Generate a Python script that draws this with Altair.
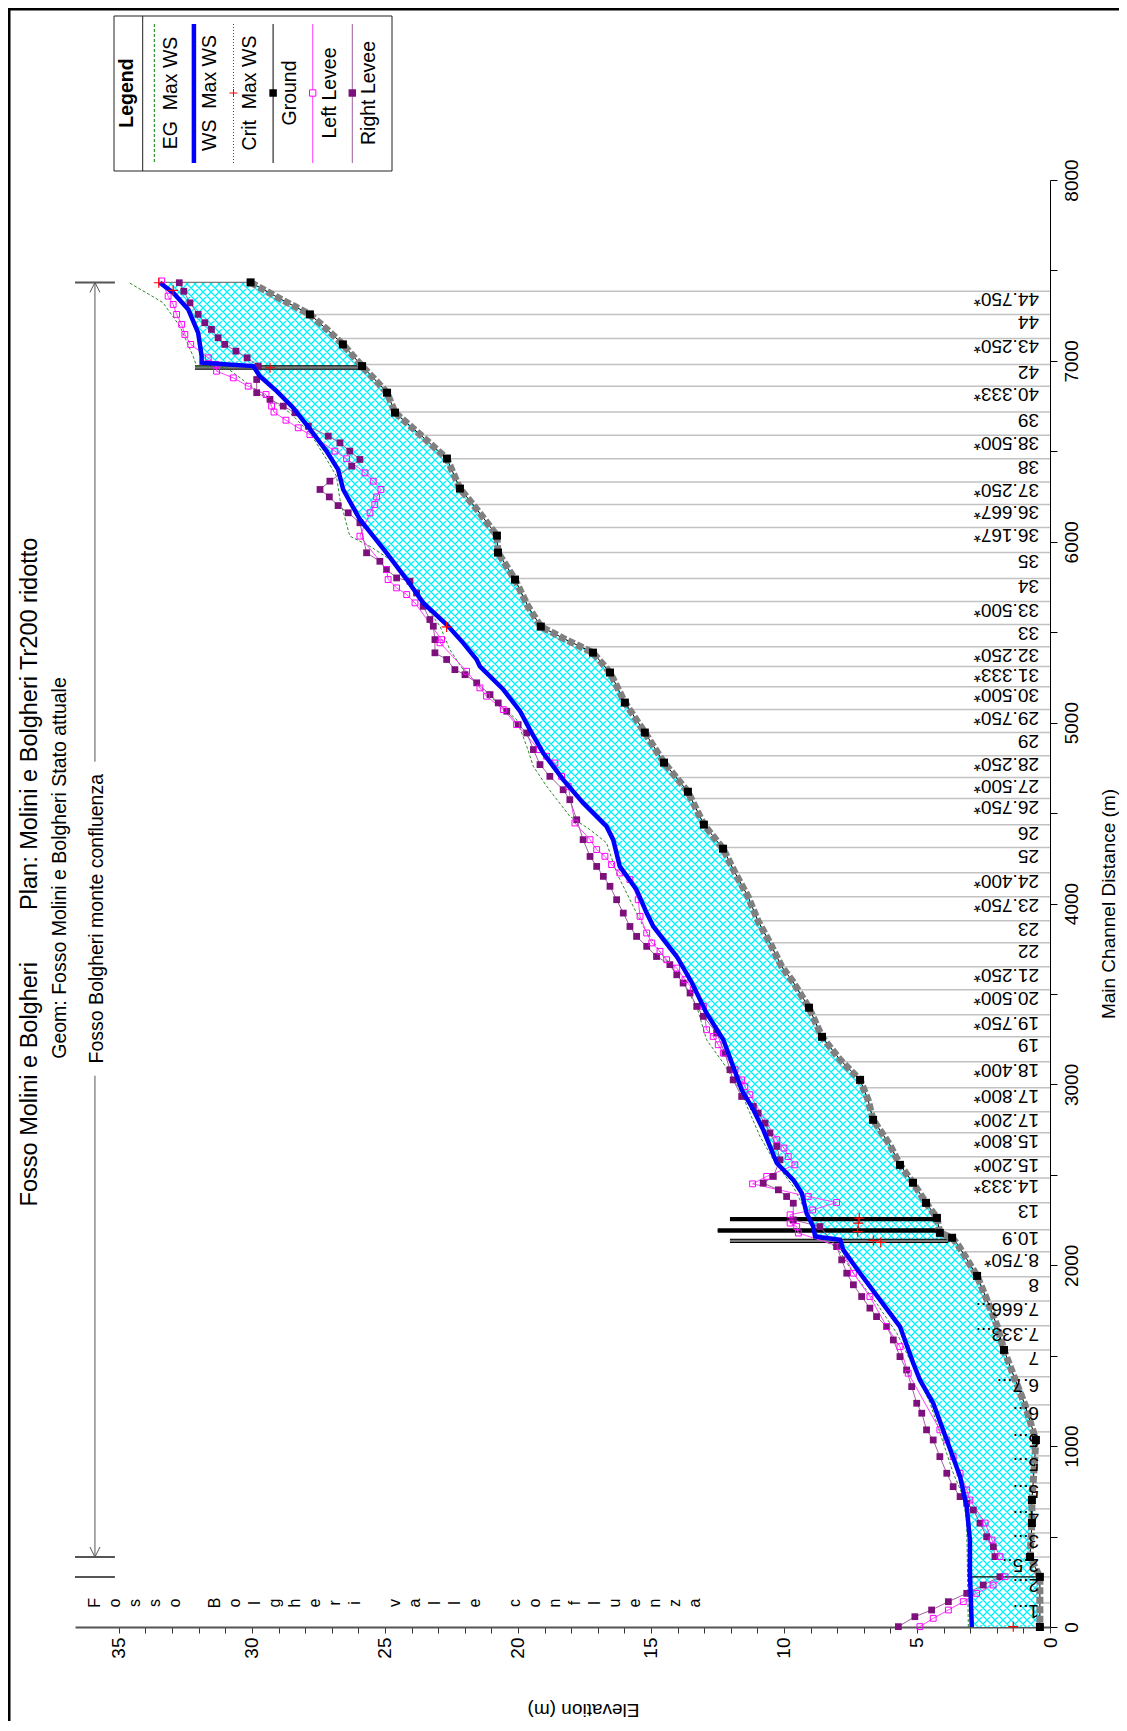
import altair as alt
import pandas as pd

# ---------------- data ----------------
# Water surface (WS Max WS): distance (m), elevation (m)
WS_D = [7432, 7377, 7284, 7155, 7026, 6990, 6971, 6915, 6833, 6741, 6611, 6500, 6399, 6289, 6123, 6031, 5939, 5791,
        5662, 5542, 5441, 5348, 5311, 5183, 5063, 4961, 4832, 4685, 4556, 4426, 4353, 4205, 4076, 3947, 3873, 3707,
        3562, 3394, 3247, 3099, 2970, 2860, 2749, 2565, 2472, 2399, 2288, 2214, 2159, 2141, 2085, 1956, 1809, 1661,
        1458, 1366, 1237, 1034, 831, 665, 481, 297, 0]
WS_E = [33.46, 32.96, 32.39, 32.02, 31.89, 31.89, 29.95, 29.70, 29.07, 28.45, 27.76, 27.19, 26.76, 26.57, 25.94, 25.44,
        24.94, 24.18, 23.56, 22.68, 22.06, 21.55, 21.43, 20.55, 19.92, 19.55, 19.05, 18.30, 17.55, 16.67, 16.42, 16.17,
        15.54, 15.16, 14.91, 14.03, 13.46, 12.91, 12.28, 11.91, 11.59, 11.15, 10.78, 10.27, 9.65, 9.33, 9.15, 8.90,
        8.83, 7.89, 7.77, 7.14, 6.39, 5.64, 5.14, 4.89, 4.39, 3.88, 3.38, 3.13, 3.01, 3.01, 2.94]

# Energy grade (EG Max WS)
EG_D = [7430, 7323, 7192, 7026, 6971, 6962, 6879, 6787, 6713, 6602, 6455, 6362, 6233, 6031, 5975, 5902, 5736, 5533,
        5404, 5293, 5146, 5017, 4869, 4758, 4648, 4482, 4408, 4335, 4169, 4021, 3873, 3707, 3560, 3431, 3247, 3118,
        2970, 2841, 2712, 2583, 2435, 2288, 2141, 2103, 1956, 1790, 1624, 1440, 1239, 852, 721, 575, 0]
EG_E = [34.59, 33.35, 32.71, 32.21, 32.08, 30.95, 30.20, 29.32, 28.57, 27.82, 27.19, 26.82, 26.69, 26.32, 25.56, 24.81,
        23.94, 22.93, 22.56, 22.06, 21.05, 20.05, 19.67, 19.42, 18.92, 18.05, 17.29, 16.67, 16.29, 15.79, 15.29, 14.54,
        13.79, 13.28, 12.91, 12.28, 11.65, 11.28, 10.90, 10.40, 9.65, 9.15, 8.65, 8.02, 7.39, 6.52, 5.76, 5.14, 4.51,
        3.64, 3.26, 3.13, 3.07]

# Ground (channel bed); GR_REAL = 1 for surveyed sections (black markers)
GR_D = [7434, 7390, 7344, 7257, 7174, 7091, 6971, 6897, 6824, 6714, 6593, 6460, 6294, 6178, 6034, 5940, 5791, 5642,
        5531, 5459, 5387, 5277, 5111, 4945, 4779, 4618, 4436, 4303, 4170, 4038, 3905, 3783, 3650, 3567, 3424, 3263,
        3136, 3025, 2915, 2804, 2666, 2555, 2456, 2345, 2262, 2179, 2152, 2113, 1941, 1809, 1665, 1532, 1383, 1228,
        1034, 868, 702, 575, 387, 277, 0]
GR_E = [30.05, 29.51, 28.95, 27.82, 27.18, 26.58, 25.86, 25.38, 24.92, 24.62, 23.68, 22.67, 22.18, 21.54, 20.79, 20.75,
        20.11, 19.62, 19.14, 18.20, 17.18, 16.54, 15.98, 15.23, 14.51, 13.61, 13.01, 12.29, 11.84, 11.35, 10.98, 10.53,
        10.08, 9.66, 9.06, 8.57, 7.89, 7.14, 6.84, 6.65, 6.02, 5.64, 5.15, 4.66, 4.25, 4.14, 3.68, 3.46, 2.74, 2.37,
        1.99, 1.73, 1.35, 0.94, 0.53, 0.60, 0.68, 0.68, 0.75, 0.38, 0.38]
GR_REAL = [1, 0, 0, 1, 0, 1, 1, 0, 1, 1, 0, 1, 1, 0, 1, 1, 1, 0, 1, 0, 1, 1, 1, 1, 1, 1, 1, 1, 0, 0, 0, 0, 0, 0, 1, 1,
           0, 1, 0, 1, 0, 1, 1, 1, 1, 1, 1, 0, 1, 0, 0, 1, 0, 0, 1, 0, 1, 1, 1, 1, 1]

# Right levee (upper reach "monte confluenza", lower reach "valle confluenza")
RL_D = [7432, 7385, 7321, 7257, 7211, 7174, 7128, 7091, 7054, 7017, 6971, 6897, 6824, 6787, 6750, 6713, 6639, 6584,
        6547, 6501, 6455, 6418, 6335, 6289, 6248, 6200, 6160, 6105, 5939, 5892, 5846, 5800, 5782, 5717, 5643, 5570,
        5533, 5459, 5386, 5349, 5293, 5265, 5220, 5155, 5109, 5063, 4989, 4943, 4851, 4768, 4703, 4629, 4574, 4463,
        4353, 4260, 4205, 4150, 4095, 4021, 3947, 3873, 3818, 3763, 3707, 3662, 3606, 3560, 3505, 3431, 3376, 3284,
        3173, 3081, 3025, 2933, 2878, 2841, 2786, 2731, 2657, 2583, 2491, 2454, 2417, 2380, 2343, 2251, 2214, 2103,
        2030, 1956, 1892, 1827, 1763, 1716, 1661, 1587, 1495, 1421, 1329, 1237, 1182, 1090, 1034, 942, 850, 776, 721,
        684, 647, 574, 499, 444, 389]
RL_E = [32.73, 32.56, 32.33, 32.02, 31.77, 31.52, 31.27, 31.02, 30.60, 30.18, 29.76, 29.82, 29.82, 29.32, 28.82, 28.38,
        27.88, 27.13, 26.69, 26.32, 25.94, 26.25, 27.07, 27.44, 27.09, 26.76, 26.38, 25.94, 25.69, 25.19, 24.94, 24.56,
        24.06, 23.81, 23.56, 23.31, 23.18, 23.12, 23.12, 22.68, 22.37, 21.99, 21.55, 21.05, 20.74, 20.42, 19.99, 19.67,
        19.42, 19.17, 18.80, 18.30, 18.05, 17.79, 17.55, 17.29, 17.04, 16.79, 16.54, 16.29, 16.04, 15.79, 15.54, 15.16,
        14.79, 14.29, 14.03, 13.79, 13.53, 13.28, 13.03, 12.53, 12.22, 12.03, 11.91, 11.59, 11.15, 10.97, 10.71, 10.53,
        10.27, 10.15, 10.40, 10.78, 10.21, 9.90, 9.65, 9.65, 8.65, 8.02, 7.83, 7.64, 7.39, 7.08, 6.77, 6.52, 6.14, 5.89,
        5.64, 5.39, 5.20, 5.01, 4.82, 4.64, 4.39, 4.14, 3.88, 3.64, 3.38, 3.13, 2.88, 2.63, 2.38, 2.13, 2.07]
RL_LOW_D = [278, 232, 186, 140, 94, 57, 2]
RL_LOW_E = [1.88, 2.51, 3.13, 3.82, 4.45, 5.08, 5.70]

# Left levee
LL_D = [7442, 7358, 7312, 7257, 7202, 7146, 7091, 7017, 6980, 6943, 6906, 6860, 6814, 6750, 6717, 6672, 6630, 6593,
        6501, 6459, 6381, 6335, 6289, 6248, 6206, 6160, 6031, 5846, 5791, 5745, 5708, 5662, 5459, 5441, 5284, 5192,
        5146, 5072, 4989, 4851, 4814, 4777, 4703, 4648, 4445, 4353, 4298, 4261, 4215, 4169, 4132, 4021, 3929, 3837,
        3782, 3735, 3689, 3643, 3579, 3523, 3431, 3302, 3265, 3219, 3173, 3081, 3025, 2988, 2943, 2694, 2648, 2601,
        2555, 2491, 2450, 2380, 2347, 2306, 2279, 2233, 2214, 2178, 2103, 1956, 1827, 1661, 1550, 1403, 1090, 1034,
        942, 850, 758, 702, 575, 481, 389]
LL_E = [33.39, 33.15, 32.96, 32.83, 32.64, 32.52, 32.30, 31.64, 31.35, 31.33, 30.70, 30.14, 29.47, 29.26, 29.17, 28.72,
        28.26, 27.82, 26.88, 26.44, 25.75, 25.44, 25.15, 25.31, 25.38, 25.56, 25.94, 24.94, 24.88, 24.56, 24.18, 23.87,
        22.87, 22.93, 21.93, 21.43, 21.18, 20.55, 20.05, 19.20, 18.92, 18.61, 18.36, 18.11, 17.86, 17.29, 17.04, 16.73,
        16.48, 16.17, 15.79, 15.48, 15.41, 15.16, 14.97, 14.66, 14.41, 14.03, 13.72, 13.41, 13.03, 12.91, 12.66, 12.47,
        12.28, 11.84, 11.59, 11.47, 11.28, 10.27, 10.00, 9.84, 9.59, 10.65, 11.18, 9.09, 8.02, 8.92, 9.77, 9.77, 9.52,
        9.46, 7.89, 7.39, 6.77, 6.14, 5.64, 5.33, 4.14, 3.88, 3.64, 3.38, 3.13, 3.01, 2.44, 2.18, 1.88]
LL_LOW_D = [278, 232, 186, 140, 94, 48, 2]
LL_LOW_E = [1.69, 2.14, 2.76, 3.26, 3.82, 4.39, 4.89]

# Critical water surface markers
CRIT_D = [7432, 7390, 6962, 5529, 2261, 2233, 2186, 2137, 2126, 2]
CRIT_E = [33.50, 32.96, 29.32, 22.68, 7.17, 7.21, 7.23, 6.64, 6.36, 1.38]

# Cross-section stations (labels), their distance and ground elevation
XS_LABEL = ["44.750*", "44", "43.250*", "42", "40.333*", "39", "38.500*", "38", "37.250*", "36.667*",
            "36.167*", "35", "34", "33.500*", "33", "32.250*", "31.333*", "30.500*", "29.750*", "29",
            "28.250*", "27.500*", "26.750*", "26", "25", "24.400*", "23.750*", "23", "22", "21.250*",
            "20.500*", "19.750*", "19", "18.400*", "17.800*", "17.200*", "15.800*", "15.200*", "14.333*", "13",
            "10.9", "8.750*", "8", "7.666...", "7.333...", "7", "6.7...", "6...", "5...", "5...",
            "5...", "4...", "3...", "2.5..", "2...", "1..."]
XS_D = [7385, 7257, 7124, 6980, 6860, 6718, 6589, 6459, 6331, 6206, 6079, 5940, 5797, 5669, 5542, 5420, 5310, 5199,
        5072, 4945, 4817, 4696, 4580, 4436, 4309, 4170, 4038, 3905, 3783, 3650, 3523, 3385, 3263, 3125, 2981, 2848,
        2732, 2600, 2483, 2345, 2196, 2074, 1936, 1803, 1665, 1532, 1383, 1228, 1079, 946, 796, 653, 520, 387, 277, 133]
XS_GROUND = [29.5, 27.8, 26.9, 25.9, 25.15, 24.6, 23.65, 22.65, 22.3, 21.7, 21.0, 20.75, 20.1, 19.7, 19.2, 17.7, 16.7,
             16.3, 15.8, 15.2, 14.65, 14.1, 13.45, 13.0, 12.3, 11.85, 11.35, 10.95, 10.5, 10.1, 9.45, 8.95, 8.55, 7.85,
             7.0, 6.7, 6.3, 5.8, 5.3, 4.65, 4.1, 3.3, 2.75, 2.35, 2.0, 1.75, 1.35, 0.95, 0.55, 0.55, 0.65, 0.7, 0.7,
             0.75, 0.4, 0.4]

# Structures (bridges / culverts): distance, low and high elevation, kind
STRUCT_D = [6963, 2255, 2192, 2135]
STRUCT_E1 = [32.14, 12.03, 12.49, 12.03]
STRUCT_E2 = [25.94, 4.25, 4.14, 3.83]
STRUCT_KIND = ["deck", "open", "open", "deck"]

# Reach extents (distance, m) and annotation text
REACH_UP = [387, 7434]
REACH_LOW = [0, 277]
REACH_UP_NAME = "Fosso Bolgheri monte confluenza"
REACH_LOW_NAME = "Fosso Bolgheri valle confluenza"
TITLE = "Fosso Molini e Bolgheri" + "\u00a0" * 8 + "Plan: Molini e Bolgheri Tr200 ridotto"
SUBTITLE = "Geom: Fosso Molini e Bolgheri Stato attuale"
LEGEND_LABELS = ["EG\u00a0 Max WS", "WS\u00a0 Max WS", "Crit\u00a0 Max WS", "Ground", "Left Levee", "Right Levee"]

# ---------------- crosshatch pattern for the flow area ----------------
PATTERN_SVG = (
    '<svg width="0" height="0" style="position:absolute;left:0;top:0" aria-hidden="true">'
    '<defs><pattern id="xhatch" patternUnits="userSpaceOnUse" width="8" height="8">'
    '<rect width="8" height="8" fill="white"/>'
    '<path d="M-1,1 l2,-2 M0,8 l8,-8 M7,9 l2,-2 M-1,7 l2,2 M0,0 l8,8 M7,-1 l2,2" '
    'stroke="#00f2ff" stroke-width="1.3"/>'
    '</pattern></defs></svg>')
HATCH = "url(#xhatch) #a8f4f6"

try:
    import altair.utils.html as _ah

    class _PatternTemplate:
        def __init__(self, base):
            self.base = base

        def render(self, *args, **kwargs):
            html = self.base.render(*args, **kwargs)
            if "<body>" in html:
                return html.replace("<body>", "<body>\n" + PATTERN_SVG, 1)
            return PATTERN_SVG + html

    if "standard" in _ah.TEMPLATES:
        _ah.TEMPLATES["standard"] = _PatternTemplate(_ah.TEMPLATES["standard"])
except Exception:
    pass

# ---------------- tables ----------------
ws = pd.DataFrame({"d": WS_D, "e": WS_E})
ws["i"] = range(len(ws))
eg = pd.DataFrame({"d": EG_D, "e": EG_E})
eg["i"] = range(len(eg))
gr = pd.DataFrame({"d": GR_D, "e": GR_E, "real": GR_REAL})
gr["i"] = range(len(gr))
rl = pd.DataFrame({"d": RL_D + RL_LOW_D, "e": RL_E + RL_LOW_E,
                   "reach": ["up"] * len(RL_D) + ["low"] * len(RL_LOW_D)})
rl["i"] = range(len(rl))
ll = pd.DataFrame({"d": LL_D + LL_LOW_D, "e": LL_E + LL_LOW_E,
                   "reach": ["up"] * len(LL_D) + ["low"] * len(LL_LOW_D)})
ll["i"] = range(len(ll))
crit = pd.DataFrame({"d": CRIT_D, "e": CRIT_E})
xs = pd.DataFrame({"d": XS_D, "g": XS_GROUND, "lab": XS_LABEL, "z": 0.0})
st = pd.DataFrame({"d": STRUCT_D, "e1": STRUCT_E1, "e2": STRUCT_E2, "kind": STRUCT_KIND})
poly = pd.concat([ws[["d", "e"]], gr[["d", "e"]].iloc[::-1]], ignore_index=True)
poly["i"] = range(len(poly))
edges = pd.DataFrame({"d": [GR_D[0], REACH_LOW[1]], "e1": [WS_E[0], WS_E[-2]], "e2": [GR_E[0], GR_E[-2]],
                      "kind": ["top", "junction"]})

ONE = pd.DataFrame({"k": [0]})

# ---------------- scales and axes ----------------
W, H = 975, 1447
XSC = alt.Scale(domain=[0, 36.65], reverse=True, nice=False, zero=False)
YSC = alt.Scale(domain=[0, 8000], nice=False, zero=False)
FONT = "Liberation Sans"

bottom_axis = alt.Axis(
    orient="bottom", values=list(range(0, 36)), format="d",
    labelExpr="datum.value % 5 === 0 ? datum.label : ''",
    labelAngle=270, labelAlign="right", labelBaseline="middle", labelPadding=4,
    labelFontSize=19, labelColor="black", labelFont=FONT, labelFlush=False, labelOverlap=False,
    tickSize=6, tickColor="#333333", tickWidth=1, domainColor="#555555", domainWidth=2, grid=False,
    title="Elevation (m)", titleAngle=180, titleAlign="center", titleBaseline="bottom",
    titleX=508, titleY=72, titleFontSize=19, titleFontWeight="normal", titleColor="black", titleFont=FONT)

right_axis = alt.Axis(
    orient="right", values=list(range(0, 8001, 500)), format="d",
    labelExpr="datum.value % 1000 === 0 ? datum.label : ''",
    labelAngle=270, labelAlign="center", labelBaseline="top", labelPadding=5,
    labelFontSize=19, labelColor="black", labelFont=FONT, labelFlush=False, labelOverlap=False,
    tickSize=7, tickColor="black", domainColor="black", domainWidth=1, grid=False,
    title="Main Channel Distance (m)", titleAngle=270, titleAlign="center", titleBaseline="top",
    titleX=49, titleY=723.5, titleFontSize=19, titleFontWeight="normal", titleColor="black", titleFont=FONT)


def xe(f):
    return alt.X(f, type="quantitative", scale=XSC, axis=bottom_axis)


def yd(f):
    return alt.Y(f, type="quantitative", scale=YSC, axis=right_axis)


# ---------------- layers ----------------
L_xs = alt.Chart(xs).mark_rule(color="#c2c2c2", strokeWidth=1.5).encode(
    x=xe("g"), x2="z:Q", y=yd("d"))

L_fill = alt.Chart(poly).mark_line(fill=HATCH, strokeOpacity=0, strokeWidth=0).encode(
    x=xe("e"), y=yd("d"), order=alt.Order("i:Q"))

L_edges = alt.Chart(edges).mark_rule(strokeWidth=1.3).encode(
    x=xe("e1"), x2="e2:Q", y=yd("d"),
    color=alt.Color("kind:N", scale=alt.Scale(domain=["top", "junction"], range=["#7a7a7a", "black"]), legend=None))

L_st_out = alt.Chart(st).mark_rule(color="black", strokeWidth=4.4).encode(x=xe("e1"), x2="e2:Q", y=yd("d"))
L_st_in = alt.Chart(st).mark_rule(strokeWidth=2.4).encode(
    x=xe("e1"), x2="e2:Q", y=yd("d"),
    color=alt.Color("kind:N", scale=alt.Scale(domain=["deck", "open"], range=["#8c8c8c", "white"]), legend=None))

L_eg = alt.Chart(eg).mark_line(color="#2d8a2d", strokeDash=[3, 2], strokeWidth=1).encode(
    x=xe("e"), y=yd("d"), order=alt.Order("i:Q"))

L_ll_line = alt.Chart(ll).mark_line(color="#ff40ff", strokeWidth=1).encode(
    x=xe("e"), y=yd("d"), detail="reach:N", order=alt.Order("i:Q"))
L_rl_line = alt.Chart(rl).mark_line(color="#a060a0", strokeWidth=1).encode(
    x=xe("e"), y=yd("d"), detail="reach:N", order=alt.Order("i:Q"))
L_rl_pts = alt.Chart(rl).mark_point(shape="square", filled=True, color="#7d107d", size=46, opacity=1).encode(
    x=xe("e"), y=yd("d"))
L_ll_pts = alt.Chart(ll).mark_point(shape="square", filled=False, color="#ff00ff", size=34, strokeWidth=1,
                                    opacity=1).encode(x=xe("e"), y=yd("d"))

L_ws = alt.Chart(ws).mark_line(color="#0000ff", strokeWidth=4.5).encode(
    x=xe("e"), y=yd("d"), order=alt.Order("i:Q"))

L_gr_line = alt.Chart(gr).mark_line(color="black", strokeWidth=1).encode(
    x=xe("e"), y=yd("d"), order=alt.Order("i:Q"))
L_gr_chain = alt.Chart(gr).mark_line(color="#808080", strokeWidth=7, strokeDash=[7, 2.5]).encode(
    x=xe("e"), y=yd("d"), order=alt.Order("i:Q"))
L_gr_real = alt.Chart(gr).transform_filter("datum.real == 1").mark_point(
    shape="square", filled=True, color="black", size=64, opacity=1).encode(x=xe("e"), y=yd("d"))

PLUS = "M-1,0L1,0M0,-1L0,1"
L_crit = alt.Chart(crit).mark_point(shape=PLUS, filled=False, color="#ff0000", size=100, strokeWidth=1.2,
                                    opacity=1).encode(x=xe("e"), y=yd("d"))

L_lab = alt.Chart(xs).mark_text(angle=180, align="left", baseline="alphabetic", dx=11, dy=-2,
                                fontSize=19, font=FONT, color="black").encode(
    x=xe("z"), y=yd("d"), text="lab:N")

# reach dimension line with its name
DIM_E = 35.9
dim_lines = pd.DataFrame({"e": [DIM_E, DIM_E], "d1": [REACH_UP[1], 3048], "d2": [4784, REACH_UP[0]]})
L_dim = alt.Chart(dim_lines).mark_rule(color="#555555", strokeWidth=1).encode(x=xe("e"), y=yd("d1"), y2="d2:Q")
caps = pd.DataFrame({"d": [REACH_UP[1], REACH_UP[0], REACH_LOW[1]], "e1": [36.65] * 3, "e2": [35.15] * 3})
L_caps = alt.Chart(caps).mark_rule(color="#555555", strokeWidth=2).encode(x=xe("e1"), x2="e2:Q", y=yd("d"))
L_arr_up = alt.Chart(pd.DataFrame({"d": [REACH_UP[1]], "e": [DIM_E]})).mark_point(
    shape="M-1,2L0,0L1,2", filled=False, color="#555555", size=100, strokeWidth=1, opacity=1).encode(
    x=xe("e"), y=yd("d"))
L_arr_dn = alt.Chart(pd.DataFrame({"d": [REACH_UP[0]], "e": [DIM_E]})).mark_point(
    shape="M-1,-2L0,0L1,-2", filled=False, color="#555555", size=100, strokeWidth=1, opacity=1).encode(
    x=xe("e"), y=yd("d"))
L_up_name = alt.Chart(pd.DataFrame({"d": [3916], "e": [35.83], "t": [REACH_UP_NAME]})).mark_text(
    angle=270, align="center", baseline="middle", fontSize=19.5, font=FONT, color="black").encode(
    x=xe("e"), y=yd("d"), text="t:N")

letters = [(c, 35.91 - 0.752 * i) for i, c in enumerate(REACH_LOW_NAME) if c != " "]
valle = pd.DataFrame({"t": [c for c, _ in letters], "e": [p for _, p in letters], "d": 133})
L_valle = alt.Chart(valle).mark_text(angle=270, align="center", baseline="middle", fontSize=16, font=FONT,
                                     color="black").encode(x=xe("e"), y=yd("d"), text="t:N")

# titles (left of the plot, rotated)
L_title = alt.Chart(ONE).mark_text(angle=270, align="center", baseline="alphabetic", fontSize=23.5, font=FONT,
                                   color="black", text=TITLE).encode(x=alt.value(-38), y=alt.value(692))
L_sub = alt.Chart(ONE).mark_text(angle=270, align="center", baseline="alphabetic", fontSize=19.5, font=FONT,
                                 color="black", text=SUBTITLE).encode(x=alt.value(-9), y=alt.value(688))

# outer frame (left and top edges)
L_frame_l = alt.Chart(ONE).mark_rule(color="black", strokeWidth=3).encode(
    x=alt.value(-66), y=alt.value(-172), y2=alt.value(1560))
L_frame_t = alt.Chart(ONE).mark_rule(color="black", strokeWidth=3).encode(
    x=alt.value(-67), x2=alt.value(1060), y=alt.value(-171))

# legend box
LG_X0, LG_X1, LG_Y0, LG_Y1 = 39, 317, -164, -9
LG_MID = -87
legend_layers = [
    alt.Chart(ONE).mark_rect(fill="white", stroke="#222222", strokeWidth=1).encode(
        x=alt.value(LG_X0), x2=alt.value(LG_X1), y=alt.value(LG_Y0), y2=alt.value(LG_Y1)),
    alt.Chart(ONE).mark_rule(color="#222222", strokeWidth=1).encode(
        x=alt.value(67.7), y=alt.value(LG_Y0), y2=alt.value(LG_Y1)),
    alt.Chart(ONE).mark_text(angle=270, align="center", baseline="middle", fontSize=19.5, fontWeight="bold",
                             font=FONT, color="black", text="Legend").encode(x=alt.value(52), y=alt.value(LG_MID)),
]
sym_styles = [
    dict(color="#008000", strokeDash=[3, 2], strokeWidth=1),
    dict(color="#0000ff", strokeWidth=4.5),
    dict(color="#ff0000", strokeDash=[1, 2], strokeWidth=1),
    dict(color="black", strokeWidth=1),
    dict(color="#ff40ff", strokeWidth=1),
    dict(color="#a060a0", strokeWidth=1),
]
for i, lab in enumerate(LEGEND_LABELS):
    xsym = 79.3 + 39.6 * i
    xtxt = 95.7 + 39.7 * i
    legend_layers.append(alt.Chart(ONE).mark_rule(**sym_styles[i]).encode(
        x=alt.value(xsym), y=alt.value(-156), y2=alt.value(-17)))
    legend_layers.append(alt.Chart(ONE).mark_text(angle=270, align="center", baseline="middle", fontSize=19.5,
                                                  font=FONT, color="black", text=lab).encode(
        x=alt.value(xtxt), y=alt.value(LG_MID)))
legend_layers.append(alt.Chart(ONE).mark_point(shape=PLUS, filled=False, color="#ff0000", size=64, strokeWidth=1,
                                               opacity=1).encode(x=alt.value(79.3 + 39.6 * 2), y=alt.value(LG_MID)))
legend_layers.append(alt.Chart(ONE).mark_point(shape="square", filled=True, color="black", size=56,
                                               opacity=1).encode(x=alt.value(79.3 + 39.6 * 3), y=alt.value(LG_MID)))
legend_layers.append(alt.Chart(ONE).mark_point(shape="square", filled=False, fill="white", color="#ff00ff", size=40,
                                               strokeWidth=1, opacity=1).encode(x=alt.value(79.3 + 39.6 * 4),
                                                                                y=alt.value(LG_MID)))
legend_layers.append(alt.Chart(ONE).mark_point(shape="square", filled=True, color="#7d107d", size=56,
                                               opacity=1).encode(x=alt.value(79.3 + 39.6 * 5), y=alt.value(LG_MID)))

chart = alt.layer(
    L_xs, L_fill, L_edges, L_st_out, L_st_in, L_eg, L_ll_line, L_rl_line, L_rl_pts, L_ll_pts,
    L_gr_line, L_gr_chain, L_gr_real, L_ws, L_crit, L_lab,
    L_dim, L_caps, L_arr_up, L_arr_dn, L_up_name, L_valle, L_title, L_sub, L_frame_l, L_frame_t,
    *legend_layers
).properties(
    width=W, height=H,
    autosize=alt.AutoSizeParams(type="none"),
    padding={"left": 67, "top": 172, "right": 69, "bottom": 94},
).configure(font=FONT).configure_view(strokeWidth=0)

chart.save("out.html", embed_options={"renderer": "svg", "actions": False})
